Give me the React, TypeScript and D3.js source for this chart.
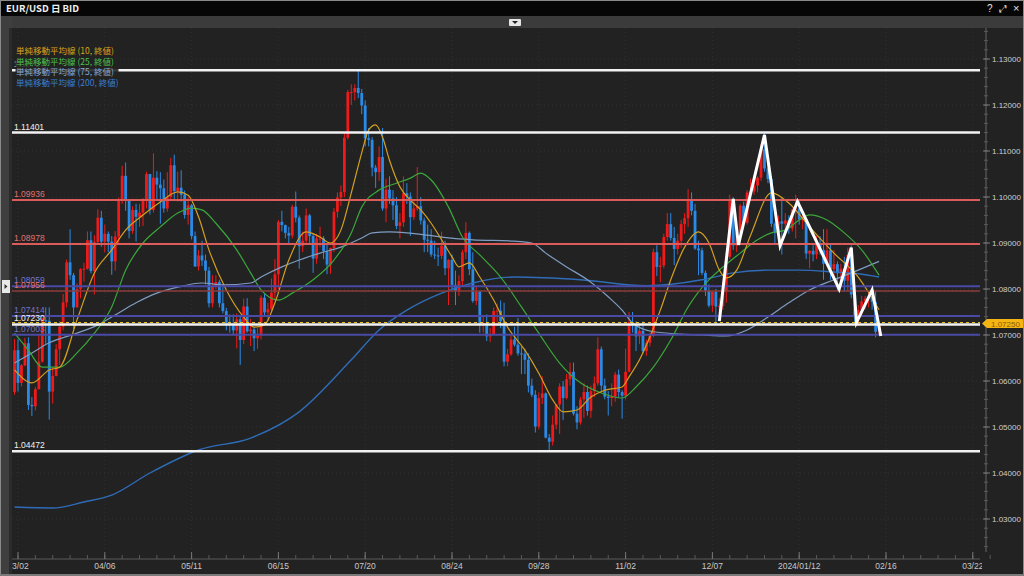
import React from "react";
import * as d3 from "d3";

const W = 1024;
const H = 576;

// ---- daily candles, 2023-03-01 .. 2024-02-14 (index 0 = 03/01) ----
const OPEN = [
1.0576,1.0667,1.0596,1.0634,1.0682,1.0548,1.0545,1.0582,1.0642,1.0732,1.0731,1.0577,1.0611,1.0669,1.0718,1.0771,1.0858,1.0830,1.0760,1.0800,
1.0843,1.0844,1.0906,1.0839,1.0902,1.0955,1.0903,1.0920,1.0903,1.0860,1.0914,1.0993,1.1046,1.0993,1.0926,1.0972,1.0957,1.0966,1.0992,1.1050,
1.0972,1.1042,1.1027,1.1019,1.0975,1.1000,1.1069,1.1013,1.1020,1.1005,1.0961,1.0982,1.0915,1.0849,1.0873,1.0862,1.0840,1.0769,1.0805,1.0815,
1.0769,1.0752,1.0725,1.0722,1.0710,1.0734,1.0689,1.0762,1.0708,1.0712,1.0693,1.0698,1.0781,1.0749,1.0756,1.0792,1.0832,1.0946,1.0939,1.0922,
1.0916,1.0979,1.0955,1.0893,1.0905,1.0960,1.0915,1.0866,1.0910,1.0910,1.0882,1.0853,1.0889,1.0968,1.0999,1.1011,1.1129,1.1228,1.1228,1.1237,
1.1226,1.1199,1.1128,1.1124,1.1064,1.1054,1.1087,1.0975,1.1016,1.0997,1.0982,1.0937,1.0945,1.1008,1.1001,1.0956,1.0975,1.0980,1.0949,1.0907,
1.0905,1.0875,1.0873,1.0872,1.0894,1.0845,1.0863,1.0809,1.0796,1.0817,1.0880,1.0922,1.0843,1.0774,1.0795,1.0722,1.0726,1.0697,1.0700,1.0752,
1.0753,1.0730,1.0642,1.0658,1.0690,1.0679,1.0660,1.0659,1.0646,1.0590,1.0570,1.0501,1.0563,1.0573,1.0477,1.0468,1.0505,1.0549,1.0588,1.0563,
1.0604,1.0620,1.0529,1.0510,1.0560,1.0576,1.0535,1.0578,1.0595,1.0669,1.0590,1.0566,1.0563,1.0566,1.0614,1.0576,1.0568,1.0620,1.0728,1.0721,
1.0697,1.0709,1.0665,1.0683,1.0698,1.0880,1.0848,1.0851,1.0913,1.0941,1.0911,1.0887,1.0905,1.0941,1.0954,1.0992,1.0970,1.0888,1.0884,1.0835,
1.0796,1.0764,1.0794,1.0762,1.0763,1.0794,1.0870,1.0991,1.0895,1.0922,1.0981,1.0944,1.1010,1.1012,1.1025,1.1042,1.1104,1.1062,1.1039,1.0942,
1.0922,1.0947,1.0942,1.0949,1.0932,1.0973,1.0975,1.0951,1.0952,1.0877,1.0883,1.0875,1.0897,1.0885,1.0855,1.0884,1.0843,1.0854,1.0834,1.0844,
1.0818,1.0874,1.0788,1.0742,1.0755,1.0773,1.0779,1.0783,1.0772,1.0707
];
const HIGH = [
1.0691,1.0691,1.0637,1.0694,1.0695,1.0565,1.0587,1.0700,1.0737,1.0760,1.0760,1.0630,1.0680,1.0730,1.0789,1.0864,1.0930,1.0835,1.0812,1.0845,
1.0857,1.0925,1.0925,1.0917,1.0973,1.0970,1.0940,1.0925,1.0915,1.0926,1.0999,1.1068,1.1075,1.0995,1.0980,1.0985,1.0985,1.0998,1.1055,1.1050,
1.1095,1.1056,1.1054,1.1038,1.1054,1.1085,1.1092,1.1055,1.1058,1.1014,1.1000,1.0985,1.0925,1.0885,1.0905,1.0875,1.0848,1.0830,1.0830,1.0820,
1.0808,1.0759,1.0745,1.0745,1.0747,1.0740,1.0779,1.0780,1.0735,1.0718,1.0715,1.0786,1.0790,1.0770,1.0823,1.0865,1.0950,1.0970,1.0940,1.0935,
1.0983,1.1012,1.0960,1.0925,1.0975,1.0963,1.0920,1.0920,1.0935,1.0915,1.0900,1.0890,1.0976,1.1010,1.1025,1.1140,1.1233,1.1245,1.1245,1.1276,
1.1235,1.1210,1.1150,1.1130,1.1070,1.1110,1.1150,1.1040,1.1045,1.1015,1.1000,1.0965,1.1045,1.1030,1.1010,1.0995,1.1065,1.1000,1.0955,1.0940,
1.0930,1.0905,1.0890,1.0925,1.0905,1.0865,1.0875,1.0840,1.0830,1.0885,1.0945,1.0925,1.0880,1.0805,1.0795,1.0740,1.0745,1.0715,1.0760,1.0768,
1.0775,1.0770,1.0670,1.0700,1.0718,1.0737,1.0675,1.0670,1.0660,1.0605,1.0580,1.0575,1.0610,1.0575,1.0485,1.0525,1.0550,1.0595,1.0600,1.0615,
1.0640,1.0640,1.0545,1.0565,1.0595,1.0590,1.0590,1.0610,1.0695,1.0675,1.0605,1.0578,1.0595,1.0620,1.0625,1.0580,1.0670,1.0750,1.0750,1.0730,
1.0725,1.0730,1.0690,1.0705,1.0888,1.0895,1.0870,1.0920,1.0965,1.0965,1.0935,1.0920,1.0950,1.0965,1.1017,1.1010,1.0985,1.0905,1.0890,1.0840,
1.0810,1.0795,1.0800,1.0780,1.0815,1.0880,1.1005,1.1000,1.0935,1.0985,1.0990,1.1015,1.1040,1.1030,1.1045,1.1115,1.1139,1.1075,1.1045,1.0945,
1.0960,1.1000,1.0965,1.0960,1.0975,1.1005,1.0995,1.0965,1.0955,1.0885,1.0895,1.0915,1.0915,1.0930,1.0930,1.0900,1.0885,1.0860,1.0855,1.0870,
1.0890,1.0895,1.0795,1.0765,1.0785,1.0785,1.0795,1.0795,1.0795,1.0730
];
const LOW = [
1.0570,1.0577,1.0588,1.0632,1.0537,1.0524,1.0536,1.0582,1.0640,1.0680,1.0516,1.0551,1.0610,1.0635,1.0710,1.0760,1.0820,1.0713,1.0760,1.0780,
1.0816,1.0842,1.0834,1.0788,1.0897,1.0892,1.0880,1.0880,1.0831,1.0840,1.0900,1.0985,1.0970,1.0910,1.0920,1.0903,1.0935,1.0937,1.0975,1.0962,
1.0966,1.0995,1.0942,1.0966,1.0968,1.0995,1.0995,1.0990,1.0990,1.0953,1.0940,1.0908,1.0848,1.0840,1.0850,1.0810,1.0760,1.0760,1.0800,1.0760,
1.0747,1.0710,1.0705,1.0700,1.0671,1.0635,1.0680,1.0705,1.0676,1.0665,1.0670,1.0690,1.0740,1.0730,1.0750,1.0775,1.0800,1.0925,1.0910,1.0896,
1.0910,1.0945,1.0844,1.0880,1.0900,1.0900,1.0835,1.0855,1.0891,1.0865,1.0832,1.0833,1.0880,1.0955,1.0980,1.1000,1.1125,1.1200,1.1210,1.1215,
1.1180,1.1110,1.1110,1.1045,1.1020,1.1035,1.0970,1.0945,1.0985,1.0950,1.0930,1.0910,1.0935,1.0985,1.0915,1.0950,1.0970,1.0940,1.0880,1.0880,
1.0870,1.0865,1.0850,1.0865,1.0830,1.0765,1.0800,1.0765,1.0785,1.0805,1.0865,1.0830,1.0770,1.0765,1.0705,1.0705,1.0687,1.0685,1.0700,1.0720,
1.0715,1.0632,1.0632,1.0655,1.0675,1.0655,1.0615,1.0615,1.0575,1.0565,1.0488,1.0495,1.0550,1.0475,1.0448,1.0460,1.0495,1.0485,1.0515,1.0560,
1.0590,1.0525,1.0495,1.0505,1.0520,1.0525,1.0520,1.0565,1.0590,1.0575,1.0560,1.0525,1.0545,1.0555,1.0565,1.0518,1.0560,1.0620,1.0705,1.0665,
1.0680,1.0660,1.0655,1.0675,1.0695,1.0828,1.0815,1.0845,1.0905,1.0905,1.0852,1.0875,1.0890,1.0920,1.0935,1.0960,1.0885,1.0830,1.0830,1.0785,
1.0760,1.0750,1.0723,1.0740,1.0755,1.0770,1.0865,1.0885,1.0880,1.0905,1.0940,1.0940,1.0995,1.1005,1.1010,1.1035,1.1055,1.1030,1.0935,1.0900,
1.0920,1.0875,1.0925,1.0920,1.0925,1.0910,1.0940,1.0930,1.0865,1.0845,1.0860,1.0865,1.0875,1.0820,1.0850,1.0820,1.0825,1.0795,1.0815,1.0795,
1.0795,1.0780,1.0725,1.0720,1.0740,1.0755,1.0760,1.0755,1.0695,1.0700
];
const CLOSE = [
1.0667,1.0596,1.0634,1.0682,1.0548,1.0545,1.0582,1.0642,1.0732,1.0731,1.0577,1.0611,1.0669,1.0718,1.0771,1.0858,1.0830,1.0760,1.0800,1.0843,
1.0844,1.0906,1.0839,1.0902,1.0955,1.0903,1.0920,1.0903,1.0860,1.0914,1.0993,1.1046,1.0993,1.0926,1.0972,1.0957,1.0966,1.0992,1.1050,1.0972,
1.1042,1.1027,1.1019,1.0975,1.1000,1.1069,1.1013,1.1020,1.1005,1.0961,1.0982,1.0915,1.0849,1.0873,1.0862,1.0840,1.0769,1.0805,1.0815,1.0769,
1.0752,1.0725,1.0722,1.0710,1.0734,1.0689,1.0762,1.0708,1.0712,1.0693,1.0698,1.0781,1.0749,1.0756,1.0792,1.0832,1.0946,1.0939,1.0922,1.0916,
1.0979,1.0955,1.0893,1.0905,1.0960,1.0915,1.0866,1.0910,1.0910,1.0882,1.0853,1.0889,1.0968,1.0999,1.1011,1.1129,1.1228,1.1228,1.1237,1.1226,
1.1199,1.1128,1.1124,1.1064,1.1054,1.1087,1.0975,1.1016,1.0997,1.0982,1.0937,1.0945,1.1008,1.1001,1.0956,1.0975,1.0980,1.0949,1.0907,1.0905,
1.0875,1.0873,1.0872,1.0894,1.0845,1.0863,1.0809,1.0796,1.0817,1.0880,1.0922,1.0843,1.0774,1.0795,1.0722,1.0726,1.0697,1.0700,1.0752,1.0753,
1.0730,1.0642,1.0658,1.0690,1.0679,1.0660,1.0659,1.0646,1.0590,1.0570,1.0501,1.0563,1.0573,1.0477,1.0468,1.0505,1.0549,1.0588,1.0563,1.0604,
1.0620,1.0529,1.0510,1.0560,1.0576,1.0535,1.0578,1.0595,1.0669,1.0590,1.0566,1.0563,1.0566,1.0614,1.0576,1.0568,1.0620,1.0728,1.0721,1.0697,
1.0709,1.0665,1.0683,1.0698,1.0880,1.0848,1.0851,1.0913,1.0941,1.0911,1.0887,1.0905,1.0941,1.0954,1.0992,1.0970,1.0888,1.0884,1.0835,1.0796,
1.0764,1.0794,1.0762,1.0763,1.0794,1.0870,1.0991,1.0895,1.0922,1.0981,1.0944,1.1010,1.1012,1.1025,1.1042,1.1104,1.1062,1.1039,1.0942,1.0922,
1.0947,1.0942,1.0949,1.0932,1.0973,1.0975,1.0951,1.0952,1.0877,1.0883,1.0875,1.0897,1.0885,1.0855,1.0884,1.0843,1.0854,1.0834,1.0844,1.0818,
1.0874,1.0788,1.0742,1.0755,1.0773,1.0779,1.0783,1.0772,1.0707,1.0725
];

// ---- moving averages: [candle index, value] ----
const MA10 = [
[0,1.0624],[5,1.0596],[10,1.0624],[13,1.0630],[18,1.0733],[23,1.0835],[28,1.0885],[32,1.0928],[37,1.0961],[42,1.0989],[47,1.1011],[50,1.1004],
[53,1.0957],[56,1.0885],[61,1.0798],[66,1.0739],[69,1.0717],[72,1.0722],[75,1.0770],[79,1.0863],[84,1.0924],[88,1.0913],[91,1.0900],[94,1.0928],
[97,1.1009],[100,1.1096],[102,1.1146],[104,1.1157],[106,1.1130],[108,1.1080],[111,1.1022],[114,1.0993],[117,1.0972],[120,1.0943],[123,1.0907],
[126,1.0870],[128,1.0848],[131,1.0857],[134,1.0826],[138,1.0776],[142,1.0717],[147,1.0667],[151,1.0617],[155,1.0559],[158,1.0533],[162,1.0537],
[166,1.0565],[170,1.0580],[175,1.0587],[177,1.0609],[180,1.0646],[183,1.0696],[186,1.0754],[189,1.0820],[193,1.0891],[197,1.0924],[200,1.0900],
[203,1.0841],[205,1.0824],[208,1.0841],[212,1.0917],[218,1.1009],[223,1.0987],[229,1.0935],[236,1.0878],[243,1.0826],[249,1.0755]
];
const MA25 = [
[0,1.0704],[4,1.0667],[8,1.0630],[13,1.0630],[18,1.0661],[23,1.0704],[28,1.0761],[32,1.0841],[37,1.0900],[42,1.0935],[47,1.0965],[51,1.0976],
[54,1.0972],[58,1.0943],[64,1.0885],[68,1.0835],[71,1.0798],[76,1.0776],[80,1.0791],[86,1.0820],[92,1.0863],[97,1.0922],[100,1.0978],[105,1.1015],
[110,1.1030],[114,1.1041],[117,1.1052],[120,1.1037],[125,1.0978],[129,1.0913],[134,1.0874],[140,1.0826],[146,1.0761],[151,1.0704],[157,1.0639],
[163,1.0596],[169,1.0574],[175,1.0563],[179,1.0587],[184,1.0630],[189,1.0689],[194,1.0761],[200,1.0820],[203,1.0841],[209,1.0878],[214,1.0907],
[218,1.0922],[222,1.0928],[226,1.0950],[229,1.0961],[234,1.0950],[239,1.0922],[244,1.0885],[249,1.0830]
];
const MA75 = [
[0,1.0639],[5,1.0661],[10,1.0683],[18,1.0704],[24,1.0722],[30,1.0748],[35,1.0770],[41,1.0791],[47,1.0804],[54,1.0813],[60,1.0809],[68,1.0813],
[71,1.0826],[77,1.0848],[82,1.0863],[88,1.0878],[94,1.0891],[100,1.0911],[103,1.0922],[108,1.0924],[113,1.0922],[119,1.0917],[125,1.0911],
[132,1.0907],[144,1.0904],[149,1.0900],[153,1.0878],[159,1.0848],[165,1.0820],[171,1.0783],[175,1.0754],[178,1.0726],[184,1.0707],[192,1.0702],
[198,1.0700],[205,1.0698],[211,1.0711],[217,1.0739],[223,1.0770],[229,1.0798],[236,1.0820],[243,1.0841],[249,1.0860]
];
const MA200 = [
[0,1.0326],[11,1.0324],[20,1.0337],[28,1.0352],[39,1.0400],[53,1.0450],[68,1.0476],[82,1.0533],[97,1.0646],[105,1.0711],[113,1.0754],
[123,1.0791],[132,1.0813],[144,1.0826],[163,1.0820],[182,1.0807],[198,1.0820],[207,1.0835],[217,1.0841],[226,1.0841],[236,1.0837],[243,1.0833],[249,1.0826]
];

// hand-drawn zigzag (index, price)
const ZIGZAG = [
[203,1.0730],[207,1.0996],[208.5,1.0896],[216,1.1135],[220.5,1.0894],[225.5,1.0990],[237.5,1.0800],[241,1.0890],[242.5,1.0727],[247,1.0798],[249.5,1.0698]
];

// horizontal levels
const WHITE_LEVELS = [1.12757, 1.11401, 1.07230, 1.04472];
const RED_LEVELS = [1.09936, 1.08978, 1.07956];
const BLUE_LEVELS = [1.08059, 1.07414, 1.07003];
const CURRENT_PRICE = 1.07250;

// axes
const X_TICK_INDEX = [1, 26, 51, 76, 101, 126, 151, 176, 201, 226, 251, 276];
const X_TICK_LABELS = ["03/02", "04/06", "05/11", "06/15", "07/20", "08/24", "09/28", "11/02", "12/07", "2024/01/12", "02/16", "03/22"];
const Y_TICKS = [1.03, 1.04, 1.05, 1.06, 1.07, 1.08, 1.09, 1.10, 1.11, 1.12, 1.13];

const LEGEND = ["単純移動平均線 (10, 終値)", "単純移動平均線 (25, 終値)", "単純移動平均線 (75, 終値)", "単純移動平均線 (200, 終値)"];

const PL = 12, PR = 982, PT = 28, PB = 553;
const NUM_FONT = "'Liberation Sans', Arial, sans-serif";
const JP_FONT = "'Noto Sans CJK JP', 'Noto Sans', sans-serif";

export default function App() {
  const x = d3.scaleLinear().domain([1, 251]).range([18, 886]);
  const y = d3.scaleLinear().domain([1.03, 1.13]).range([519, 59]);

  const maLine = d3.line<number[]>().x((d) => x(d[0])).y((d) => y(d[1])).curve(d3.curveMonotoneX);
  const zig = d3.line<number[]>().x((d) => x(d[0])).y((d) => y(d[1]));

  const minorX = d3.range(1, 282, 5);
  const minorY = d3.range(1.024, 1.1365, 0.002);

  const maStyles = [
    { data: MA200, color: "#2f6cb8", w: 1.4 },
    { data: MA75, color: "#7f9cc2", w: 1.2 },
    { data: MA25, color: "#3aa83a", w: 1.2 },
    { data: MA10, color: "#d4a020", w: 1.2 },
  ];
  const legendColors = ["#d9a21c", "#4cc04c", "#86a8d6", "#3a7fd0"];

  return (
    <svg width={W} height={H} style={{ display: "block", position: "absolute", left: 0, top: 0 }}>
      <defs>
        <clipPath id="plot">
          <rect x={PL} y={PT} width={PR - PL} height={PB - PT} />
        </clipPath>
        <clipPath id="xlab">
          <rect x={PL} y={PB} width={PR - PL} height={H - PB} />
        </clipPath>
      </defs>
      {/* frame */}
      <rect x={0} y={0} width={W} height={H} fill="#1f1f1f" />
      <rect x={PL} y={PT} width={W - PL} height={H - PT} fill="#222222" />
      {/* title bar */}
      <rect x={0} y={0} width={W} height={16} fill="#060606" />
      <text x={6} y={12} fill="#f0f0f0" fontSize={9.5} fontWeight="bold" fontFamily={JP_FONT}>EUR/USD 日 BID</text>
      <text x={987} y={12} fill="#e0e0e0" fontSize={10} fontFamily={NUM_FONT}>?</text>
      <text x={999} y={12} fill="#e0e0e0" fontSize={10} fontFamily={NUM_FONT}>⤢</text>
      <text x={1013} y={12} fill="#e0e0e0" fontSize={11} fontFamily={NUM_FONT}>×</text>
      {/* toolbar strip */}
      <rect x={0} y={16} width={W} height={12} fill="#3b3b3b" />
      <rect x={509} y={19} width={12} height={7} rx={1} fill="#e6e6e6" />
      <path d="M512,21 L518,21 L515,24 Z" fill="#222" />
      {/* left bar */}
      <rect x={0} y={16} width={PL} height={H - 16} fill="#3f3f3f" />
      <rect x={9} y={28} width={3} height={H - 28} fill="#2b2b2b" />
      <rect x={2} y={280} width={8} height={13} fill="#e8e8e8" />
      <path d="M4.5,284 L7.5,286.5 L4.5,289 Z" fill="#333" />

      {/* grid */}
      <g stroke="#303030" strokeWidth={1} strokeDasharray="1,3">
        {X_TICK_INDEX.map((t) => (
          <line key={"gx" + t} x1={x(t)} x2={x(t)} y1={PT} y2={PB} />
        ))}
        {Y_TICKS.map((t) => (
          <line key={"gy" + t} x1={PL} x2={PR} y1={y(t)} y2={y(t)} />
        ))}
      </g>

      <g clipPath="url(#plot)">
        {/* candles */}
        {CLOSE.map((c, i) => {
          const o = OPEN[i];
          const up = c >= o;
          const col = up ? "#f01a1a" : "#2b8ae6";
          const cx = x(i);
          const top = y(Math.max(o, c));
          const bot = y(Math.min(o, c));
          return (
            <g key={"c" + i}>
              <line x1={cx} x2={cx} y1={y(Math.max(HIGH[i], o, c))} y2={y(Math.min(LOW[i], o, c))} stroke={col} strokeWidth={1} />
              <rect x={cx - 1.4} y={top} width={2.8} height={Math.max(1, bot - top)} fill={col} />
            </g>
          );
        })}
        {/* moving averages */}
        {maStyles.map((m, k) => (
          <path key={"ma" + k} d={maLine(m.data as number[][]) || ""} fill="none" stroke={m.color} strokeWidth={m.w} />
        ))}
        {/* levels */}
        {BLUE_LEVELS.map((v) => (
          <line key={"bl" + v} x1={PL} x2={980} y1={y(v)} y2={y(v)} stroke="#4a4aa6" strokeWidth={2} />
        ))}
        {RED_LEVELS.map((v, k) => (
          <line key={"rl" + v} x1={PL} x2={980} y1={y(v)} y2={y(v)} stroke={k === 2 ? "#8e3c3c" : "#dc5c5c"} strokeWidth={k === 2 ? 1.5 : 2} />
        ))}
        {WHITE_LEVELS.map((v) => (
          <line key={"wl" + v} x1={PL} x2={980} y1={y(v)} y2={y(v)} stroke="#f2f2f2" strokeWidth={2.5} />
        ))}
        <line x1={PL} x2={980} y1={y(CURRENT_PRICE) - 1} y2={y(CURRENT_PRICE) - 1} stroke="#e8c020" strokeWidth={1} strokeDasharray="3,3" />
        {/* zigzag */}
        <path d={zig(ZIGZAG as number[][]) || ""} fill="none" stroke="#ffffff" strokeWidth={3} strokeLinejoin="miter" />
      </g>

      {/* level labels */}
      <g fontFamily={NUM_FONT} fontSize={8.5}>
        {BLUE_LEVELS.map((v) => (
          <text key={"blt" + v} x={14} y={y(v) - 3} fill="#7474cc">{v.toFixed(5)}</text>
        ))}
        {RED_LEVELS.map((v) => (
          <text key={"rlt" + v} x={14} y={y(v) - 3} fill="#e07070">{v.toFixed(5)}</text>
        ))}
        {WHITE_LEVELS.map((v) => (
          <text key={"wlt" + v} x={14} y={y(v) - 3} fill="#f0f0f0">{v.toFixed(5)}</text>
        ))}
      </g>

      {/* legend (semi-opaque panel over the top level label) */}
      <rect x={15.5} y={44} width={103} height={46} fill="#222222" opacity={0.9} />
      <g fontFamily={JP_FONT} fontSize={8.5}>
        {LEGEND.map((t, k) => (
          <text key={"lg" + k} x={16} y={54 + k * 10.5} fill={legendColors[k]}>{t}</text>
        ))}
      </g>

      {/* right axis */}
      <line x1={986} x2={986} y1={PT} y2={PB - 1} stroke="#666" strokeWidth={1} />
      {minorY.map((t, k) => (
        <line key={"my" + k} x1={984} x2={988} y1={y(t)} y2={y(t)} stroke="#5a5a5a" strokeWidth={1} />
      ))}
      {Y_TICKS.map((t) => (
        <g key={"yt" + t}>
          <line x1={983} x2={990} y1={y(t)} y2={y(t)} stroke="#777" strokeWidth={1} />
          <text x={992} y={y(t) + 3} fill="#cfcfcf" fontSize={8} fontFamily={NUM_FONT}>{t.toFixed(5)}</text>
        </g>
      ))}
      {/* current price tag */}
      <path
        d={`M982,${y(CURRENT_PRICE)} L987,${y(CURRENT_PRICE) - 4.5} L1024,${y(CURRENT_PRICE) - 4.5} L1024,${y(CURRENT_PRICE) + 4.5} L987,${y(CURRENT_PRICE) + 4.5} Z`}
        fill="#f4b414"
      />
      <text x={991} y={y(CURRENT_PRICE) + 3} fill="#8a5c00" fontSize={8} fontFamily={NUM_FONT}>{CURRENT_PRICE.toFixed(5)}</text>

      {/* x axis */}
      <line x1={PL} x2={980} y1={559} y2={559} stroke="#5a5a5a" strokeWidth={1} />
      {minorX.map((t) => (
        <line key={"mx" + t} x1={x(t)} x2={x(t)} y1={555} y2={559} stroke="#5a5a5a" strokeWidth={1} />
      ))}
      {X_TICK_INDEX.map((t) => (
        <line key={"xt" + t} x1={x(t)} x2={x(t)} y1={552} y2={559} stroke="#777" strokeWidth={1} />
      ))}
      <g clipPath="url(#xlab)">
        {X_TICK_INDEX.map((t, k) => (
          <text key={"xl" + t} x={x(t)} y={569} fill="#c8c8c8" fontSize={8.5} textAnchor="middle" fontFamily={NUM_FONT}>
            {X_TICK_LABELS[k]}
          </text>
        ))}
      </g>
      {/* outer border */}
      <rect x={0.5} y={0.5} width={W - 1} height={H - 1} fill="none" stroke="#8a8a8a" strokeWidth={1} />
      <rect x={0} y={574} width={W} height={2} fill="#7a7a7a" />
    </svg>
  );
}
